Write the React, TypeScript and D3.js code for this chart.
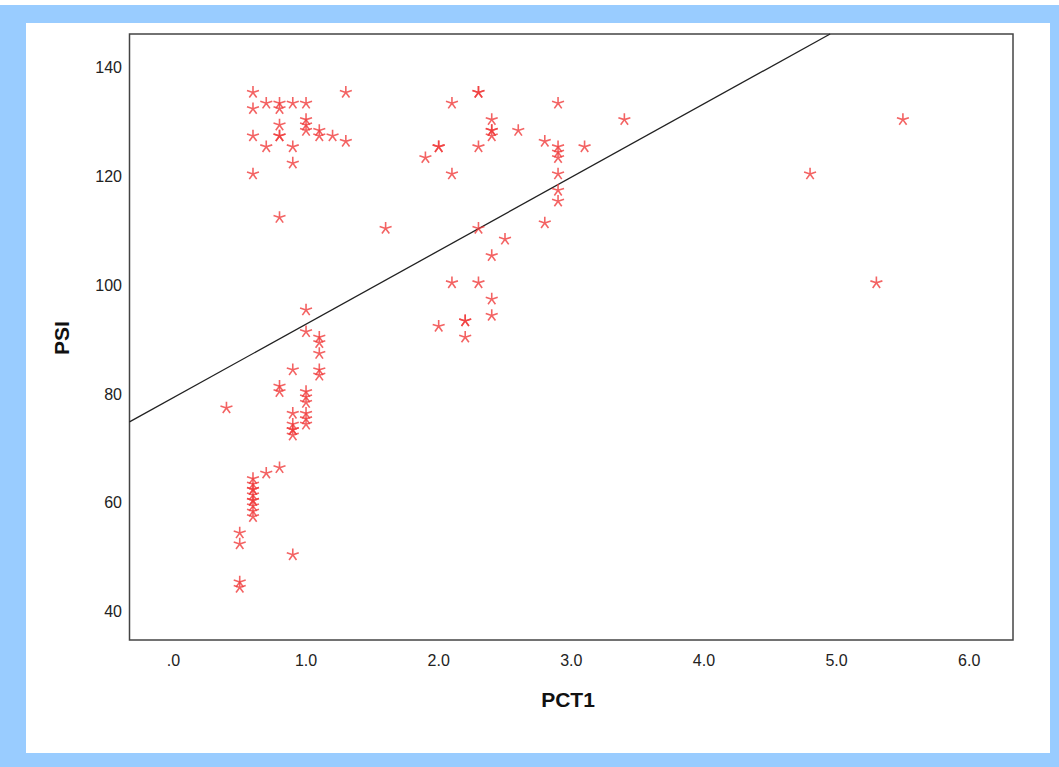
import React from "react";
import * as d3 from "d3";

// PCT1 (x) and PSI (y)
const pct1: number[] = [
  0.6, 0.6, 0.7, 0.8, 0.8, 0.9, 1.0, 1.3,
  0.8, 1.0, 1.0, 1.0, 1.1, 1.1, 0.6, 0.8, 0.8, 1.2, 1.3, 0.7, 0.9, 0.9, 0.6, 0.8, 1.6,
  0.9, 1.0, 1.0, 1.1, 1.1, 1.1, 1.1, 1.1, 0.8, 0.8, 0.4,
  1.0, 1.0, 1.0, 1.0, 1.0, 1.0, 0.9, 0.9, 0.9, 0.9, 0.9,
  0.8, 0.7,
  0.6, 0.6, 0.6, 0.6, 0.6, 0.6, 0.6, 0.6, 0.6, 0.6,
  0.5, 0.5, 0.9, 0.5, 0.5,
  2.3, 2.3, 2.1, 2.9, 2.4, 2.4, 2.4, 2.4, 2.6, 3.4, 2.8, 2.9, 2.9, 2.9, 3.1, 2.0, 2.0, 2.3,
  1.9, 2.1, 2.9, 2.9, 2.9, 2.8, 2.3, 2.5, 2.4, 2.1, 2.3, 2.4, 2.4, 2.0, 2.2, 2.2, 2.2,
  4.8, 5.5, 5.3,
];
const psi: number[] = [
  135, 132, 133, 133, 132, 133, 133, 135,
  129, 130, 129, 128, 128, 127, 127, 127, 127, 127, 126, 125, 125, 122, 120, 112, 110,
  84, 95, 91, 90, 89, 87, 84, 83, 81, 80, 77,
  80, 79, 78, 76, 75, 74, 76, 74, 73, 73, 72,
  66, 65,
  64, 63, 62, 62, 61, 60, 60, 59, 58, 57,
  54, 52, 50, 45, 44,
  135, 135, 133, 133, 130, 128, 128, 127, 128, 130, 126, 125, 124, 123, 125, 125, 125, 125,
  123, 120, 120, 117, 115, 111, 110, 108, 105, 100, 100, 97, 94, 92, 93, 93, 90,
  120, 130, 100,
];

const xTicks: number[] = [0, 1, 2, 3, 4, 5, 6];
const yTicks: number[] = [40, 60, 80, 100, 120, 140];
const fitIntercept = 78.9;
const fitSlope = 13.5;

const W = 1059;
const H = 767;
const L = 129.5, R = 1013, T = 34, B = 640;

export default function App() {
  const x = d3.scaleLinear().domain([-0.331, 6.33]).range([L, R]);
  const y = d3.scaleLinear().domain([34.34, 145.74]).range([B, T]);
  const fmtX = (v: number) => (v === 0 ? ".0" : d3.format(".1f")(v));

  const star = (r: number) => {
    const segs: string[] = [];
    for (let i = 0; i < 5; i++) {
      const a = -Math.PI / 2 + (i * 2 * Math.PI) / 5;
      segs.push(`M0,0L${(r * Math.cos(a)).toFixed(2)},${(r * Math.sin(a)).toFixed(2)}`);
    }
    return segs.join("");
  };
  const starPath = star(6.3);

  const x0 = x.domain()[0];
  const yAtX0 = fitIntercept + fitSlope * x0;
  const yTop = y.domain()[1];
  const xAtTop = (yTop - fitIntercept) / fitSlope;
  const line = d3.line<[number, number]>().x((d) => x(d[0])).y((d) => y(d[1]));
  const linePts: [number, number][] = [
    [x0, yAtX0],
    [Math.min(xAtTop, x.domain()[1]), Math.min(yTop, fitIntercept + fitSlope * x.domain()[1])],
  ];

  return (
    <svg
      width={W}
      height={H}
      style={{ position: "absolute", left: 0, top: 0 }}
      fontFamily="Arial, 'Liberation Sans', sans-serif"
    >
      <rect x={0} y={0} width={W} height={H} fill="#99ccff" />
      <rect x={0} y={0} width={W} height={5} fill="#ffffff" />
      <rect x={26} y={23} width={1024} height={730} fill="#ffffff" />

      <rect x={L} y={T} width={R - L} height={B - T} fill="#ffffff" stroke="#444" strokeWidth={1.5} />

      {yTicks.map((t) => (
        <text key={"y" + t} x={122} y={y(t) + 2.3} dy="0.35em" textAnchor="end" fontSize={16} fill="#222">
          {t}
        </text>
      ))}
      {xTicks.map((t) => (
        <text key={"x" + t} x={x(t)} y={660} dy="0.35em" textAnchor="middle" fontSize={16} fill="#222">
          {fmtX(t)}
        </text>
      ))}

      <text x={568} y={700} dy="0.35em" textAnchor="middle" fontSize={21} fontWeight="bold" fill="#111">
        PCT1
      </text>
      <text
        transform="translate(62,338) rotate(-90)"
        dy="0.35em"
        textAnchor="middle"
        fontSize={21}
        fontWeight="bold"
        fill="#111"
      >
        PSI
      </text>

      <path d={line(linePts) || ""} fill="none" stroke="#222" strokeWidth={1.3} />

      <g>
        {pct1.map((v, i) => (
          <path
            key={i}
            d={starPath}
            transform={`translate(${x(v)},${y(psi[i])})`}
            fill="none"
            stroke="#f03c3c"
            strokeOpacity={0.8}
            strokeWidth={1.6}
          />
        ))}
      </g>
    </svg>
  );
}
